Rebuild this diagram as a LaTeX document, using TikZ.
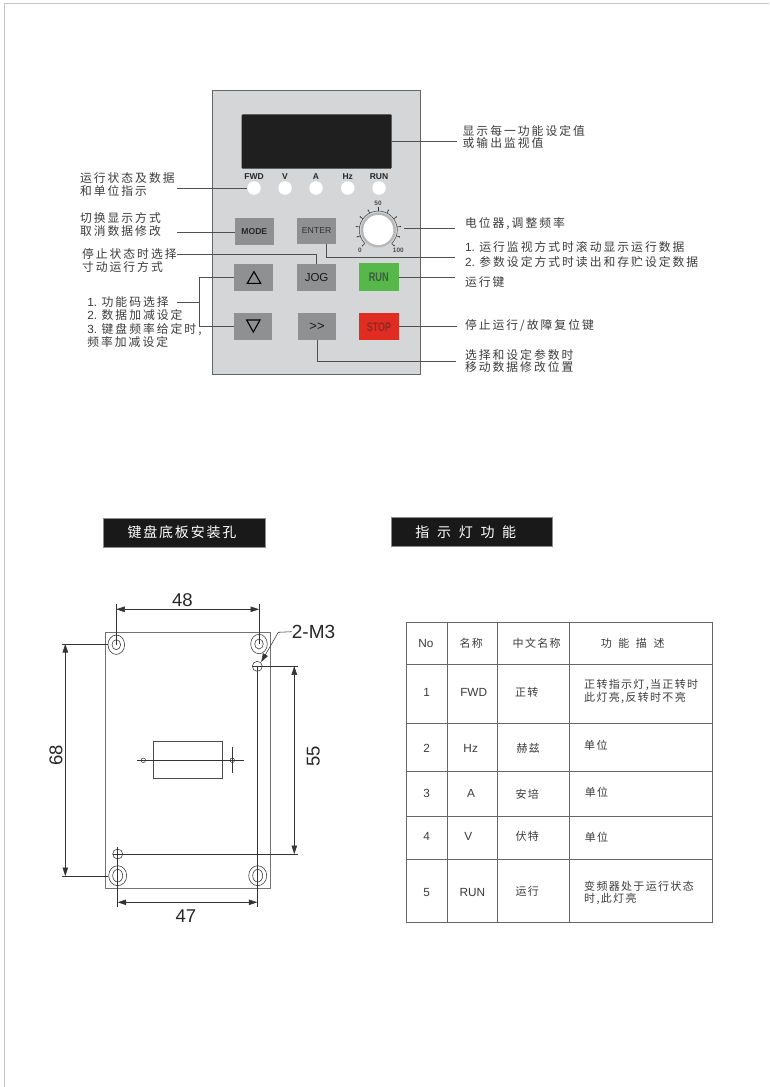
\documentclass[tikz,border=0pt]{standalone}
\usepackage{fontspec}
\setmainfont{Liberation Sans}
\newfontfamily\zhfont[LetterSpace=17]{Noto Sans CJK SC}
\newfontfamily\zhwide[LetterSpace=60]{Noto Sans CJK SC}
\newfontfamily\zhtitle[LetterSpace=13]{Noto Sans CJK SC}
\newfontfamily\zhspread[LetterSpace=55]{Noto Sans CJK SC}
\newfontfamily\zhtab[LetterSpace=12]{Noto Sans CJK SC}
\newcommand{\zh}[1]{{\zhfont #1}}
\newcommand{\tz}[1]{{\zhtab\fontsize{11}{12.7}\selectfont #1}}
\usetikzlibrary{arrows.meta}
\definecolor{panelc}{HTML}{D5D6D8}
\definecolor{keyc}{HTML}{8F9092}
\definecolor{txtc}{HTML}{3C3C3C}
\definecolor{linec}{HTML}{505050}
\definecolor{tabc}{HTML}{666666}
\definecolor{runc}{HTML}{56B84A}
\definecolor{stopc}{HTML}{E12C22}
\definecolor{runt}{HTML}{3A5F40}
\definecolor{stopt}{HTML}{8A2A25}
\tikzset{
  x=1pt,y=-1pt,
  lab/.style={inner sep=0pt,outer sep=0pt,anchor=west,align=left,text=txtc,font=\fontsize{11.8}{13}\selectfont},
  lead/.style={draw=linec,line width=.8pt},
  key/.style={draw=none,fill=keyc,inner sep=0pt,outer sep=0pt},
  ledc/.style={circle,fill=white,draw=none,minimum size=13.5pt,inner sep=0pt,outer sep=0pt},
  ledt/.style={inner sep=0pt,font=\bfseries\fontsize{8.5}{9}\selectfont,text=black!85},
  knobt/.style={inner sep=0pt,font=\bfseries\fontsize{6.4}{7}\selectfont,text=black!70},
  titlebox/.style={fill=black!90,draw=black!45,line width=.4pt,inner sep=0pt,text=white},
  plate/.style={draw=black!55,line width=.9pt},
  thin/.style={draw=black!80,line width=.55pt},
  dim/.style={draw=black!80,line width=.55pt,{Triangle[length=8.5pt,width=5.5pt]}-{Triangle[length=8.5pt,width=5.5pt]}},
  dimt/.style={inner sep=0pt,text=black!85,font=\fontsize{18.5}{20}\selectfont},
  tabline/.style={draw=tabc,line width=.8pt},
  tt/.style={inner sep=0pt,text=txtc,font=\fontsize{11.8}{12.7}\selectfont},
  td/.style={inner sep=0pt,anchor=west,align=left,text=txtc,font=\fontsize{11}{12.7}\selectfont}
}
\begin{document}
\begin{tikzpicture}
\useasboundingbox (0,0) rectangle (769,1087);
\fill[white] (0,0) rectangle (769,1087);
\draw[black!22,line width=1pt] (769,3.3) -- (4.3,3.3) -- (4.3,1087);

% panel
\node[draw=black!60,fill=panelc,line width=.8pt,minimum width=207.3pt,minimum height=283.7pt,inner sep=0pt,outer sep=0pt] (panel) at (316.3,232.2) {};
\node[fill=black!88,rounded corners=1pt,minimum width=150pt,minimum height=54.4pt,inner sep=0pt,outer sep=0pt] (display) at (316.7,141.5) {};

\foreach \n/\t/\x in {a/FWD/254,b/V/285,c/A/316,d/Hz/347.7,e/RUN/379}{
  \node[ledc] (led\n) at (\x,188) {};
  \node[ledt] (ledt\n) at (\x,176.7) {\t};
}

% keys
\node[key,minimum width=38.7pt,minimum height=26.7pt,text=black!85,font=\bfseries\fontsize{8.6}{10}\selectfont] (mode) at (254.3,231.7) {MODE};
\node[key,minimum width=38.7pt,minimum height=26.3pt,text=black!80,font=\fontsize{8.7}{10}\selectfont] (enter) at (316.6,230.8) {ENTER};
\node[key,minimum width=38.7pt,minimum height=26.7pt] (up) at (253.7,277.3) {};
\node[key,minimum width=38.7pt,minimum height=26.7pt,text=black!90,font=\fontsize{11.5}{13}\selectfont] (jog) at (316.6,277.3) {JOG};
\node[key,fill=runc,minimum width=39.7pt,minimum height=27.7pt] (run) at (378.8,277.2) {};
\node[key,minimum width=38.7pt,minimum height=26.7pt] (down) at (253,326.7) {};
\node[key,minimum width=38.7pt,minimum height=26.7pt,text=black!90,font=\fontsize{13}{13}\selectfont] (shift) at (317,326.7) {>{}>};
\node[key,fill=stopc,minimum width=39.4pt,minimum height=27pt] (stop) at (379,326.8) {};
\node[inner sep=0pt,text=runt,font=\bfseries\fontsize{12.5}{14}\selectfont] (runlab) at (run) {\scalebox{.74}[1]{RUN}};
\node[inner sep=0pt,text=stopt,font=\bfseries\fontsize{12.5}{14}\selectfont] (stoplab) at (stop) {\scalebox{.72}[1]{STOP}};
\draw[black,line width=1.1pt,line join=miter] (247.3,283.3) -- (260.7,283.3) -- (254,271.7) -- cycle;
\draw[black,line width=1.1pt,line join=miter] (246.7,320) -- (260,320) -- (253.3,332) -- cycle;

% knob
\coordinate (knobc) at (378.3,230);
\fill[black!28] (knobc) circle (17.5);
\node[circle,fill=white,minimum size=30pt,inner sep=0pt,outer sep=0pt] (knob) at (knobc) {};
\draw[black!75,line width=.5pt] (378.3,230) ++(135:19) arc[start angle=135,end angle=405,radius=19];
\foreach \i in {0,...,10}{
  \pgfmathsetmacro{\ang}{225-27*\i}
  \draw[black!80,line width=.6pt] (378.3,230) ++({cos(\ang)*19},{-sin(\ang)*19}) -- ++({cos(\ang)*3},{-sin(\ang)*3});
  \fill[black!80] (378.3,230) ++({cos(\ang)*22.3},{-sin(\ang)*22.3}) circle (.7);
}
\node[knobt] (k50) at (378,203.3) {50};
\node[knobt] (k0) at (360,250) {0};
\node[knobt] (k100) at (398.3,250) {100};

% left labels
\node[lab] (l1) at (80,184.7) {\zh{运行状态及数据}\\\zh{和单位指示}};
\node[lab] (l2) at (80,224.7) {\zh{切换显示方式}\\\zh{取消数据修改}};
\node[lab] (l3) at (82,260.8) {\zh{停止状态时选择}\\\zh{寸动运行方式}};
\node[lab,font=\fontsize{11.8}{13.5}\selectfont] (l4) at (87.3,322) {1.\hspace{4.5pt}\zh{功能码选择}\\2.\hspace{4.5pt}\zh{数据加减设定}\\3.\hspace{4.5pt}\zh{键盘频率给定时,}\\\zh{频率加减设定}};
% right labels
\node[lab,font=\fontsize{11.8}{12.7}\selectfont] (r1) at (462.7,137) {\zh{显示每一功能设定值}\\\zh{或输出监视值}};
\node[lab] (r2) at (465,223.3) {\zh{电位器,调整频率}};
\node[lab,font=\fontsize{11.8}{14.6}\selectfont] (r3) at (465,254.3) {1.\hspace{4.5pt}\zh{运行监视方式时滚动显示运行数据}\\2.\hspace{4.5pt}\zh{参数设定方式时读出和存贮设定数据}};
\node[lab] (r4) at (465,281.7) {\zh{运行键}};
\node[lab] (r5) at (465,326) {\zh{停止运行/故障复位键}};
\node[lab,font=\fontsize{11.8}{12.2}\selectfont] (r6) at (465,361) {\zh{选择和设定参数时}\\\zh{移动数据修改位置}};

% leaders
\coordinate (e1) at (177,188);
\coordinate (e2) at (177,232);
\coordinate (e3) at (177,254);
\coordinate (e4) at (177,302.7);
\coordinate (br1) at (199.3,277.3);
\coordinate (br2) at (199.3,326.7);
\coordinate (br3) at (199.3,302.7);
\coordinate (f1) at (456.7,141);
\coordinate (f2a) at (404,228);
\coordinate (f2) at (455,228);
\coordinate (f3) at (455,257.3);
\coordinate (f4) at (455,277.2);
\coordinate (f5) at (456.7,326.8);
\coordinate (f6) at (455.7,361);
\draw[lead] (e1) -- (leda.west);
\draw[lead] (e2) -- (e2 -| mode.west);
\draw[lead] (e3) -| (jog.north);
\draw[lead] (up.west) -- (br1) -- (br2) -- (down.west);
\draw[lead] (e4) -- (br3);
\draw[lead] (display.east |- f1) -- (f1);
\draw[lead] (f2a) -- (f2);
\draw[lead] ([xshift=9.4pt]enter.south) |- (f3);
\draw[lead] (run.east) -- (f4);
\draw[lead] (stop.east) -- (f5);
\draw[lead] (shift.south) |- (f6);

% titles
\node[titlebox,minimum width=162pt,minimum height=29pt,font=\fontsize{14}{16}\selectfont] (t1) at (184.3,532.2) {\zhtitle 键盘底板安装孔\kern4.6pt};
\node[titlebox,minimum width=161.7pt,minimum height=29pt,font=\fontsize{14}{16}\selectfont] (t2) at (471.8,531.8) {\zhspread 指示灯功能\kern12pt};

% plate
\node[plate,minimum width=164.3pt,minimum height=256pt,inner sep=0pt,outer sep=0pt] (pl) at (187.9,760.3) {};
\coordinate (hTL) at (116.3,644.7);
\coordinate (hTR) at (259,644);
\coordinate (hBL) at (117.7,875.7);
\coordinate (hBR) at (257.7,875.7);
\coordinate (sT) at (257.3,666.3);
\coordinate (sB) at (117.7,854);
\foreach \c in {hTL,hTR}{
  \draw[thin] (\c) ellipse[x radius=8.3,y radius=9.7];
  \draw[thin] (\c) ellipse[x radius=4.3,y radius=5];
}
\foreach \c in {hBL,hBR}{
  \draw[thin] (\c) ellipse[x radius=9,y radius=10];
  \draw[thin] (\c) ellipse[x radius=5,y radius=6.3];
}
\draw[thin] (sT) circle (5);
\draw[thin] (sB) circle (5);
% centre window
\node[draw=black!70,line width=.55pt,minimum width=69pt,minimum height=37.4pt,inner sep=0pt] (win) at (187.8,760) {};
\coordinate (m1) at (137,760.3);
\coordinate (m2) at (244.3,760.3);
\draw[thin] (m1) -- (m2);
\node[circle,draw=black!80,line width=.5pt,minimum size=4.6pt,inner sep=0pt] (mh1) at (143.3,760.3) {};
\node[circle,draw=black!80,line width=.5pt,minimum size=4.6pt,inner sep=0pt] (mh2) at (232.3,760.3) {};
\coordinate (v1) at (232.3,746.7);
\coordinate (v2) at (232.3,773.3);
\draw[thin] (v1) -- (v2);

% dimension 48
\coordinate (d48a) at (116.3,604);
\coordinate (d48b) at (259,604);
\coordinate (d48l) at (116.3,609.3);
\coordinate (d48r) at (259,609.3);
\draw[thin] (d48a) -- (hTL);
\draw[thin] (d48b) -- (hTR);
\draw[dim] (d48l) -- (d48r);
\node[dimt] (n48) at (182.3,600) {48};
% dimension 68
\coordinate (d68a) at (61.7,644);
\coordinate (d68b) at (61.7,876);
\coordinate (d68t) at (65.3,644);
\coordinate (d68u) at (65.3,876);
\draw[thin] (d68a) -- (108.3,644);
\draw[thin] (d68b) -- (108.3,876);
\draw[dim] (d68t) -- (d68u);
\node[dimt,rotate=90] (n68) at (56,755) {68};
% dimension 55
\coordinate (d55a) at (298.3,666.3);
\coordinate (d55b) at (298.3,854);
\coordinate (d55c) at (112.7,854);
\coordinate (d55d) at (253.3,666.3);
\coordinate (d55t) at (294.3,666.3);
\coordinate (d55u) at (294.3,854);
\draw[thin] (d55d) -- (d55a);
\draw[thin] (d55c) -- (d55b);
\draw[dim] (d55t) -- (d55u);
\node[dimt,rotate=90] (n55) at (313.3,756.7) {55};
% dimension 47
\coordinate (d47a) at (117.7,846.7);
\coordinate (d47b) at (117.7,907.3);
\coordinate (d47c) at (257.3,907.3);
\coordinate (d47l) at (117.7,902.3);
\coordinate (d47r) at (257.3,902.3);
\draw[thin] (d47a) -- (d47b);
\draw[thin] (sT) -- (d47c);
\draw[dim] (d47l) -- (d47r);
\node[dimt] (n47) at (186,916) {47};
% 2-M3
\node[dimt,anchor=west,font=\fontsize{19}{20}\selectfont] (m3) at (291.7,631.7) {2-M3};
\coordinate (m3k) at (278.3,632.3);
\coordinate (m3e) at (261.2,662);
\draw[thin,-{Triangle[length=8.5pt,width=5.5pt]}] (m3.west) -- (m3k) -- (m3e);

% table
\foreach \x/\n in {406.3/a,447.3/b,497.3/c,569.7/d,712.7/e}{
  \coordinate (vt\n) at (\x,622.3);
  \coordinate (vb\n) at (\x,922.3);
  \draw[tabline] (vt\n) -- (vb\n);
}
\foreach \y/\n in {622.3/a,664.3/b,723.3/c,771.3/d,816.3/e,859.3/f,922.3/g}{
  \coordinate (hl\n) at (406.3,\y);
  \coordinate (hr\n) at (712.7,\y);
  \draw[tabline] (hl\n) -- (hr\n);
}
\node[tt] (c00) at (426,643) {No};
\node[tt] (c01) at (471.3,643) {\tz{名称}};
\node[tt] (c02) at (536.7,643) {\tz{中文名称}};
\node[tt] (c03) at (632.7,643) {{\zhwide\fontsize{11}{12.7}\selectfont 功能描述}};
\node[tt] (c10) at (426.7,692) {1};
\node[tt] (c11) at (473.7,692) {FWD};
\node[tt] (c12) at (526.7,692) {\tz{正转}};
\node[td] (c13) at (584,691.3) {\tz{正转指示灯,当正转时}\\\tz{此灯亮,反转时不亮}};
\node[tt] (c20) at (426.7,748.7) {2};
\node[tt] (c21) at (470.7,748.7) {Hz};
\node[tt] (c22) at (528.3,748.7) {\tz{赫兹}};
\node[td] (c23) at (584,745.7) {\tz{单位}};
\node[tt] (c30) at (426.7,793.7) {3};
\node[tt] (c31) at (471,793.7) {A};
\node[tt] (c32) at (527.3,794) {\tz{安培}};
\node[td] (c33) at (584.7,792.7) {\tz{单位}};
\node[tt] (c40) at (426.7,836.7) {4};
\node[tt] (c41) at (468.3,836.7) {V};
\node[tt] (c42) at (527.3,836) {\tz{伏特}};
\node[td] (c43) at (584.7,837.7) {\tz{单位}};
\node[tt] (c50) at (426.7,892.7) {5};
\node[tt] (c51) at (472.3,892.7) {RUN};
\node[tt] (c52) at (527.3,891) {\tz{运行}};
\node[td] (c53) at (584,893) {\tz{变频器处于运行状态}\\\tz{时,此灯亮}};
\end{tikzpicture}
\end{document}
